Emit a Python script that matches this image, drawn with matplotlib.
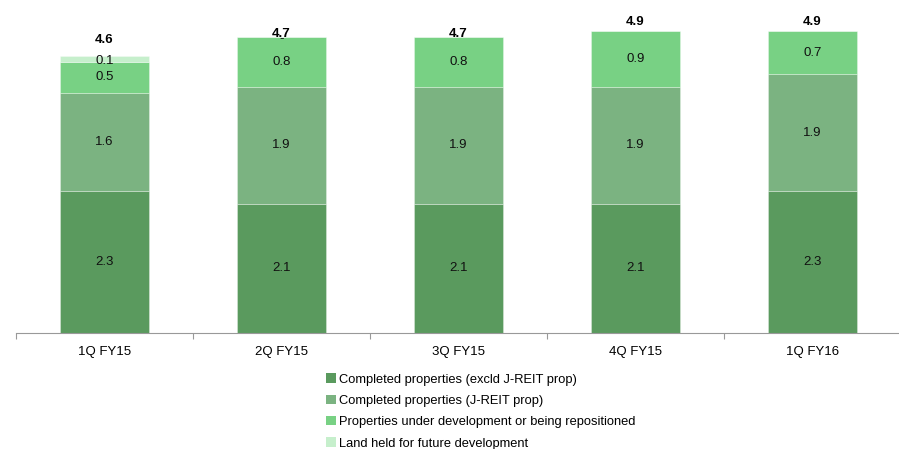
import numpy as np
import matplotlib.pyplot as plt
from matplotlib.patches import Patch

plt.rcParams['font.family'] = ['Liberation Sans', 'DejaVu Sans']

quarters = ["1Q FY15", "2Q FY15", "3Q FY15", "4Q FY15", "1Q FY16"]
completed_excl = [2.3, 2.1, 2.1, 2.1, 2.3]
completed_jreit = [1.6, 1.9, 1.9, 1.9, 1.9]
under_dev = [0.5, 0.8, 0.8, 0.9, 0.7]
land = [0.1, 0.0, 0.0, 0.0, 0.0]
land_labels = ["0.1", "-", "", "", ""]
totals = [4.6, 4.7, 4.7, 4.9, 4.9]

series = [
    ("Completed properties (excld J-REIT prop)", completed_excl, "#5a9a5e"),
    ("Completed properties (J-REIT prop)", completed_jreit, "#7bb381"),
    ("Properties under development or being repositioned", under_dev, "#78d184"),
    ("Land held for future development", land, "#c6efcc"),
]

fig = plt.figure(figsize=(8.99, 4.49), dpi=100)
ax = fig.add_axes([16 / 899, 1 - 333 / 449, 885 / 899, 0.686])

x = np.arange(len(quarters))
bottom = np.zeros(len(quarters))
for name, vals, color in series:
    vals = np.array(vals)
    ax.bar(x, vals, width=0.5, bottom=bottom, color=color,
           edgecolor=(1, 1, 1, 0.35), linewidth=0.6)
    if name.startswith("Land"):
        for i, lab in enumerate(land_labels):
            if lab:
                ax.text(x[i], bottom[i] + vals[i] / 2 - 0.03, lab, ha="center",
                        va="center", fontsize=9.5, color="#111111")
    else:
        for i, v in enumerate(vals):
            ax.text(x[i], bottom[i] + v / 2, f"{v:.1f}", ha="center",
                    va="center", fontsize=9.5, color="#111111")
    bottom += vals

for i, t in enumerate(totals):
    ax.annotate(f"{t:.1f}", (x[i], t), xytext=(0, 2.5), textcoords="offset points",
                ha="center", va="bottom", fontsize=9.5, fontweight="bold")

ax.set_xlim(-0.5, 4.5)
ax.set_ylim(0, 5)
ax.set_yticks([])
for s in ["left", "right", "top"]:
    ax.spines[s].set_visible(False)
ax.spines["bottom"].set_color("#999999")
ax.spines["bottom"].set_linewidth(0.8)

ax.set_xticks(x)
ax.set_xticklabels(quarters, fontsize=9.5)
ax.tick_params(axis="x", which="major", length=0, pad=9)
ax.set_xticks(np.arange(-0.5, 5.0, 1.0), minor=True)
ax.tick_params(axis="x", which="minor", length=4, color="#999999", width=0.8)

handles = [Patch(facecolor=c, label=n) for n, _, c in series]
fig.legend(handles=handles, loc="upper left", bbox_to_anchor=(320 / 899, 1 - 367 / 449),
           frameon=False, fontsize=9.3, handlelength=0.7, handleheight=0.7,
           handletextpad=0.3, labelspacing=0.72, borderpad=0)

fig.savefig("out.png", dpi=100)
